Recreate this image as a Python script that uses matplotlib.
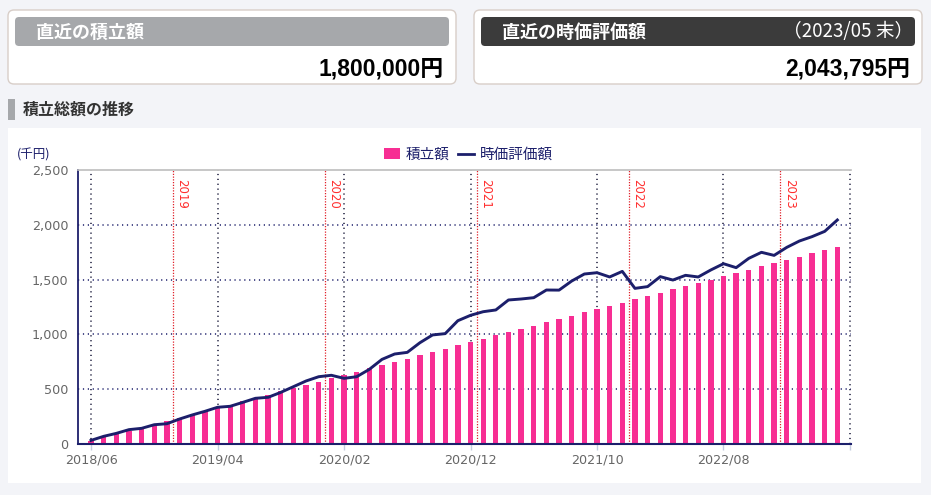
import numpy as np
import pandas as pd
import matplotlib
matplotlib.use("Agg")
import matplotlib.pyplot as plt
from matplotlib.patches import FancyBboxPatch, Rectangle, Patch
from matplotlib.lines import Line2D
from matplotlib.transforms import IdentityTransform

JP = ["Noto Sans CJK JP", "DejaVu Sans"]
NUM = ["Liberation Sans", "Noto Sans CJK JP"]

# ── data (千円, monthly 2018/06 .. 2023/05) ─────────────────────────────────
months = pd.date_range("2018-06-01", periods=60, freq="MS")
contrib = [30, 60, 90, 120, 150, 180, 210, 240, 270, 300,
           330, 360, 390, 420, 450, 480, 510, 540, 570, 600,
           630, 660, 690, 720, 750, 780, 810, 840, 870, 900,
           930, 960, 990, 1020, 1050, 1080, 1110, 1140, 1170, 1200,
           1230, 1260, 1290, 1320, 1350, 1380, 1410, 1440, 1470, 1500,
           1530, 1560, 1590, 1620, 1650, 1680, 1710, 1740, 1770, 1800]
market = [33, 70, 97, 131, 143, 176, 185, 228, 265, 298,
          335, 344, 380, 417, 426, 471, 523, 575, 614, 627,
          599, 614, 681, 772, 821, 836, 924, 995, 1007, 1125,
          1174, 1207, 1223, 1314, 1323, 1335, 1405, 1404, 1487, 1551,
          1563, 1524, 1575, 1420, 1436, 1527, 1496, 1539, 1524, 1588,
          1645, 1609, 1694, 1749, 1721, 1794, 1852, 1892, 1940, 2044]
y_ticks = [0, 500, 1000, 1500, 2000, 2500]
x_tick_labels = ["2018/06", "2019/04", "2020/02", "2020/12", "2021/10", "2022/08", ""]

total_contrib = "1,800,000円"
total_market = "2,043,795円"
as_of = "（2023/05 末）"

PINK = "#f72e93"
NAVY = "#1c1f6b"
W, H = 931, 495

fig = plt.figure(figsize=(W / 100, H / 100), dpi=100)
fig.patch.set_facecolor("#f3f4f8")


def box(x, y, w, h, fc, ec="none", r=6, lw=1.0, z=-10):
    p = FancyBboxPatch((x, H - y - h), w, h,
                       boxstyle=f"round,pad=0,rounding_size={r}",
                       fc=fc, ec=ec, lw=lw, transform=IdentityTransform(), zorder=z)
    fig.add_artist(p)


def ftext(x, y, s, **kw):
    fig.text(x / W, 1 - y / H, s, **kw)


# ── summary boxes ───────────────────────────────────────────────────────────
box(8, 10, 448, 74, "white", ec="#d8cec8", r=6)
box(15, 17, 434, 29, "#a6a8ab", r=4, z=-9)
ftext(36, 32, "直近の積立額", color="white", fontsize=13, fontweight="bold",
      family=JP, va="center", ha="left")
ftext(444, 69, total_contrib, color="black", fontsize=16.5, fontweight="bold",
      family=NUM, va="center", ha="right")

box(474, 10, 448, 74, "white", ec="#d8cec8", r=6)
box(481, 17, 434, 29, "#3b3b3b", r=4, z=-9)
ftext(502, 32, "直近の時価評価額", color="white", fontsize=13, fontweight="bold",
      family=JP, va="center", ha="left")
ftext(913, 32, as_of, color="white", fontsize=13.5, family=JP,
      va="center", ha="right")
ftext(910, 69, total_market, color="black", fontsize=16.5, fontweight="bold",
      family=NUM, va="center", ha="right")

# section title
fig.add_artist(Rectangle((8, H - 120), 7, 21, fc="#a6a8ab", ec="none",
                         transform=IdentityTransform(), zorder=-10))
ftext(23, 110, "積立総額の推移", color="#333333", fontsize=11.5, fontweight="bold",
      family=JP, va="center", ha="left")

# chart panel
fig.add_artist(Rectangle((8, H - 483), 913, 355, fc="white", ec="none",
                         transform=IdentityTransform(), zorder=-10))

# ── chart ──────────────────────────────────────────────────────────────────
ax = fig.add_axes([78 / W, 1 - 444 / H, (851 - 78) / W, (444 - 170) / H])
ax.set_facecolor("none")
x = np.arange(len(months))

ax.bar(x, contrib, width=0.42, color=PINK, zorder=3)
ax.plot(x, market, color=NAVY, lw=2.1, zorder=4, solid_joinstyle="round")

ax.set_xlim(-1.03, 60.08)
ax.set_ylim(0, 2500)

xt = np.arange(0, 61, 10)
ax.set_xticks(xt)
ax.set_xticklabels(x_tick_labels)
ax.set_yticks(y_ticks)
ax.set_yticklabels([f"{v:,}" for v in y_ticks])

for v in y_ticks[1:-1]:
    ax.axhline(v, color=NAVY, lw=1.1, ls=(0, (0.8, 2.4)), zorder=1)
for t in xt:
    ax.axvline(t, color="#1a1a3a", lw=1.1, ls=(0, (0.8, 2.4)), zorder=1)

# year boundaries
for i in range(1, len(months)):
    if months[i].month == 1:
        pos = i - 0.5
        ax.axvline(pos, color="#e0202a", lw=0.9, ls=(0, (1, 1.2)), zorder=2)
        ax.text(pos + 0.18, 2415, str(months[i].year), rotation=270,
                color="#ff2e2e", fontsize=8.5, ha="left", va="top", zorder=5)

ax.spines["right"].set_visible(False)
ax.spines["top"].set_color("#bdbdbd")
ax.spines["top"].set_linewidth(1.2)
ax.spines["left"].set_color(NAVY)
ax.spines["left"].set_linewidth(1.3)
ax.spines["bottom"].set_color(NAVY)
ax.spines["bottom"].set_linewidth(1.5)
ax.spines["bottom"].set_zorder(6)

ax.tick_params(axis="x", length=4, width=1, color="#c5cde0", pad=3,
               labelsize=9.2, labelcolor="#666666")
ax.tick_params(axis="y", length=0, pad=7, labelsize=9.2, labelcolor="#666666")

ftext(17, 155, "(千円)", color=NAVY, fontsize=9, family=JP, va="center", ha="left")

handles = [Patch(fc=PINK, ec="none"), Line2D([0], [0], color=NAVY, lw=2)]
leg = ax.legend(handles, ["積立額", "時価評価額"], loc="center",
                bbox_to_anchor=(0.505, 1.055), ncol=2, frameon=False,
                prop={"family": JP, "size": 10.5}, handlelength=1.1,
                handleheight=0.8, handletextpad=0.4, columnspacing=0.55,
                borderaxespad=0, borderpad=0)
for t in leg.get_texts():
    t.set_color(NAVY)

fig.savefig("out.png", dpi=100, facecolor=fig.get_facecolor())
